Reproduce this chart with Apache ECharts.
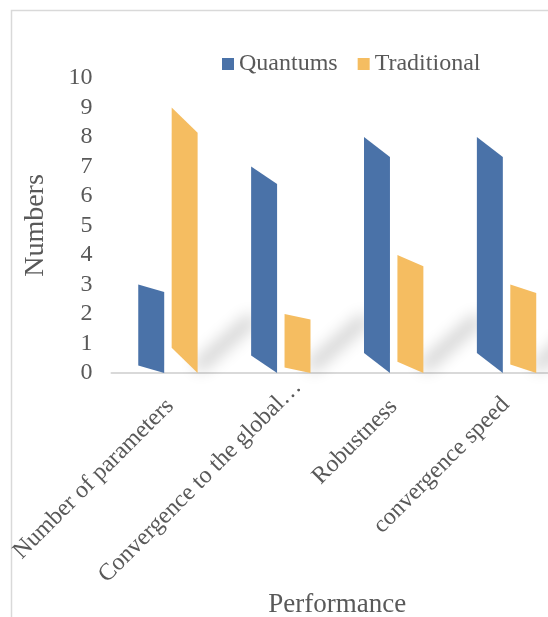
<!DOCTYPE html>
<html>
<head>
<meta charset="utf-8">
<script src="https://cdn.jsdelivr.net/npm/echarts@6/dist/echarts.min.js"></script>
<style>
  html, body { margin: 0; padding: 0; background: #ffffff; }
  #chart { width: 548px; height: 617px; }
</style>
</head>
<body>
<div id="chart"></div>
<script>
// Performance comparison of quantum and traditional approaches
var categories = [
  'Number of parameters',
  'Convergence to the global\u2026',
  'Robustness',
  'convergence speed'
];
var quantums = [3, 7, 8, 8];
var traditional = [9, 2, 4, 3];
var yTicks = [0, 1, 2, 3, 4, 5, 6, 7, 8, 9, 10];

var FONT = '"Liberation Serif", "Times New Roman", serif';
var TEXT = '#595959';
var BLUE = '#4a72a8';
var ORANGE = '#f5bd61';

// Offsets of the slanted category labels (padding in the label's own frame)
var labelPads = [
  [9, 18, 0, 0],
  [6, -6, 0, 0],
  [8, 20, 0, 0],
  [6, 19, 0, 0]
];

// Pixel geometry of a bar inside its category band (slot 0 = left, 1 = right)
function barBox(api, idx, slot) {
  var band = api.size([1, 0])[0];
  var cx = api.coord([idx, 0])[0];
  var w = band * 0.23, gap = band * 0.066;
  var xl = slot === 0 ? cx - gap / 2 - w : cx + gap / 2;
  return { xl: xl, xr: xl + w };
}

// Slanted, perspective-like column: the top edge drops toward the right,
// the foot rises toward the left, both by a share k of the bar height.
function slantedBar(slot, k) {
  return function (params, api) {
    var idx = api.value(0), v = api.value(1);
    var b = barBox(api, idx, slot);
    var y = function (t) { return api.coord([idx, t])[1]; };
    return {
      type: 'polygon',
      shape: { points: [[b.xl, y(v)], [b.xr, y(v * (1 - k))], [b.xr, y(0)], [b.xl, y(v * k)]] },
      style: { fill: api.visual('color') }
    };
  };
}

// Soft cast shadow on the floor behind each group (blurred via an offset shadow)
function floorShadow(params, api) {
  var idx = api.value(0);
  var b = barBox(api, idx, 1);
  var base = api.coord([idx, 0])[1];
  var SHIFT = 2000;
  return {
    type: 'polyline',
    shape: { points: [[b.xr + 3 - SHIFT, base - 8], [b.xr + 52 - SHIFT, base - 52]] },
    style: {
      stroke: '#000', fill: null, lineWidth: 12, lineCap: 'round',
      shadowBlur: 16, shadowColor: 'rgba(0,0,0,0.2)', shadowOffsetX: SHIFT, shadowOffsetY: 0
    },
    silent: true
  };
}

var chart = echarts.init(document.getElementById('chart'), null, { renderer: 'canvas' });

chart.setOption({
  animation: false,
  backgroundColor: '#ffffff',
  color: [BLUE, ORANGE],
  textStyle: { fontFamily: FONT, color: TEXT },
  graphic: [{
    type: 'rect',
    shape: { x: 11.5, y: 10.5, width: 700, height: 800 },
    style: { fill: null, stroke: '#d9d9d9', lineWidth: 1.5 },
    silent: true
  }],
  legend: {
    data: ['Quantums', 'Traditional'],
    left: 222,
    top: 52,
    padding: 0,
    icon: 'rect',
    itemWidth: 12,
    itemHeight: 12,
    itemGap: 20,
    textStyle: { fontFamily: FONT, fontSize: 24, color: TEXT }
  },
  grid: { left: 111.5, width: 451.5, top: 78, bottom: 244, containLabel: false, outerBoundsMode: 'none' },
  xAxis: {
    type: 'category',
    data: categories.map(function (c, i) {
      return { value: c, textStyle: { padding: labelPads[i], verticalAlign: 'top' } };
    }),
    name: 'Performance',
    nameLocation: 'middle',
    nameGap: 218,
    nameMoveOverlap: false,
    nameTextStyle: { fontFamily: FONT, fontSize: 27, color: TEXT },
    axisLine: { lineStyle: { color: '#d9d9d9', width: 2 } },
    axisTick: { show: false },
    axisLabel: { interval: 0, rotate: 45, margin: 2, verticalAlign: 'top', fontFamily: FONT, fontSize: 24, color: TEXT },
    splitLine: { show: false }
  },
  yAxis: {
    type: 'value',
    min: yTicks[0],
    max: yTicks[yTicks.length - 1],
    interval: 1,
    name: 'Numbers',
    nameLocation: 'middle',
    nameGap: 62,
    nameRotate: 90,
    nameMoveOverlap: false,
    nameTextStyle: { fontFamily: FONT, fontSize: 28, color: TEXT },
    axisLine: { show: false },
    axisTick: { show: false },
    splitLine: { show: false },
    axisLabel: { margin: 19, fontFamily: FONT, fontSize: 24, color: TEXT }
  },
  series: [
    {
      name: 'shadow',
      type: 'custom',
      silent: true,
      z: 1,
      data: categories.map(function (c, i) { return [i, 0]; }),
      encode: { x: 0, y: 1 },
      renderItem: floorShadow
    },
    {
      name: 'Quantums',
      type: 'custom',
      z: 2,
      itemStyle: { color: BLUE },
      data: quantums.map(function (v, i) { return [i, v]; }),
      encode: { x: 0, y: 1 },
      renderItem: slantedBar(0, 0.085)
    },
    {
      name: 'Traditional',
      type: 'custom',
      z: 2,
      itemStyle: { color: ORANGE },
      data: traditional.map(function (v, i) { return [i, v]; }),
      encode: { x: 0, y: 1 },
      renderItem: slantedBar(1, 0.095)
    }
  ]
});
</script>
</body>
</html>
